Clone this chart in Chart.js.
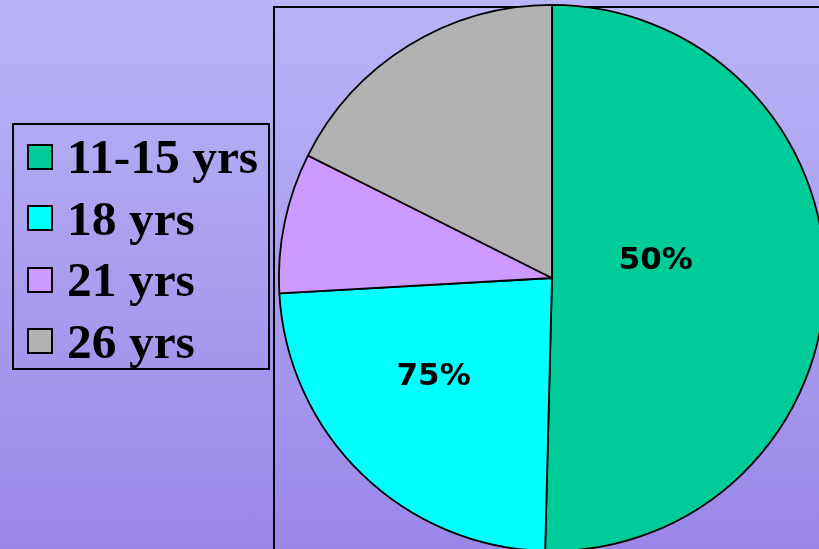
<!DOCTYPE html>
<html>
<head>
<meta charset="utf-8">
<script src="https://cdn.jsdelivr.net/npm/chart.js@4/dist/chart.umd.min.js"></script>
<style>
  html, body { margin: 0; padding: 0; width: 819px; height: 549px; overflow: hidden; }
  body { background: linear-gradient(to bottom, #b9b5f7 0%, #9a86e8 100%); position: relative; }
  #plotbox { position: absolute; left: 273px; top: 6px; width: 700px; height: 700px;
             border-top: 2px solid #000; border-left: 2px solid #000; box-sizing: border-box; }
  #wrap { position: absolute; left: 0; top: 0; width: 860px; height: 560px; }
  #legend { position: absolute; left: 12px; top: 123px; width: 258px; height: 247px;
            border: 2px solid #000; box-sizing: border-box; padding-top: 1px;
            font-family: "Liberation Serif", "Times New Roman", serif; font-weight: bold;
            font-size: 49.5px; color: #000; }
  .item { display: flex; align-items: center; height: 61.5px; line-height: 61.5px; white-space: nowrap; }
  .sw { width: 26px; height: 26px; border: 2px solid #000; box-sizing: border-box;
        margin-left: 13px; margin-right: 14px; flex: none; }
</style>
</head>
<body>
<div id="plotbox"></div>
<div id="wrap"><canvas id="c" width="860" height="560"></canvas></div>
<div id="legend"></div>
<script>
// ---- data ----
const categories = ["11-15 yrs", "18 yrs", "21 yrs", "26 yrs"];
const values = [50.4, 23.7, 8.3, 17.6];
const sliceLabels = ["50%", "75%", "", ""];
const colors = ["#00cc99", "#00ffff", "#cc99ff", "#b2b2b2"];

// ---- HTML legend built from the arrays ----
const legend = document.getElementById('legend');
categories.forEach((cat, i) => {
  const row = document.createElement('div');
  row.className = 'item';
  const sw = document.createElement('span');
  sw.className = 'sw';
  sw.style.background = colors[i];
  const tx = document.createElement('span');
  tx.textContent = cat;
  row.appendChild(sw);
  row.appendChild(tx);
  legend.appendChild(row);
});

// ---- slice labels plugin ----
const sliceLabelPlugin = {
  id: 'sliceLabels',
  afterDatasetsDraw(chart, args, opts) {
    const ctx = chart.ctx;
    const meta = chart.getDatasetMeta(0);
    ctx.save();
    ctx.font = opts.font;
    ctx.fillStyle = opts.color;
    ctx.textAlign = 'center';
    ctx.textBaseline = 'middle';
    meta.data.forEach((arc, i) => {
      const txt = sliceLabels[i];
      if (!txt) return;
      const p = arc.getProps(['x', 'y', 'startAngle', 'endAngle', 'outerRadius'], true);
      const place = opts.placement[i] || {r: 0.5, da: 0};
      const a = (p.startAngle + p.endAngle) / 2 + place.da * Math.PI / 180;
      const rr = p.outerRadius * place.r;
      ctx.fillText(txt, p.x + Math.cos(a) * rr, p.y + Math.sin(a) * rr);
    });
    ctx.restore();
  }
};

new Chart(document.getElementById('c'), {
  type: 'pie',
  data: {
    labels: categories,
    datasets: [{
      data: values,
      backgroundColor: colors,
      borderColor: '#000',
      borderWidth: 1.8,
      hoverOffset: 0
    }]
  },
  options: {
    responsive: false,
    animation: false,
    devicePixelRatio: 1,
    layout: { padding: { left: 278, top: 4, right: 34, bottom: 8 } },
    plugins: {
      legend: { display: false },
      tooltip: { enabled: false },
      sliceLabels: {
        font: 'bold 31px "DejaVu Sans", sans-serif',
        color: '#000',
        placement: [{r: 0.385, da: -10}, {r: 0.565, da: 6}]
      }
    }
  },
  plugins: [sliceLabelPlugin]
});
</script>
</body>
</html>
